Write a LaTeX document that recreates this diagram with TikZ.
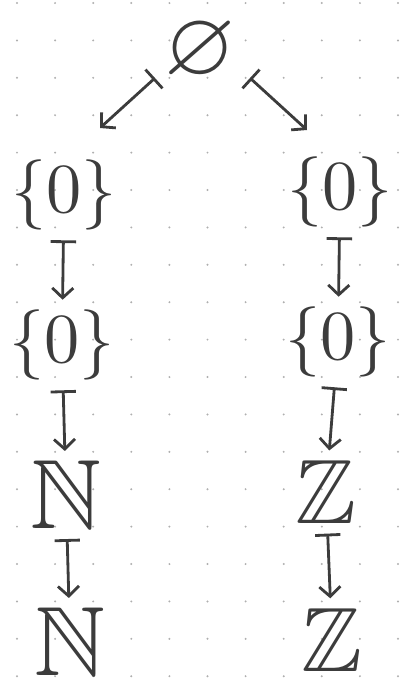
\documentclass[tikz,border=0pt]{standalone}
\usepackage{amsmath,amssymb}
\usepackage{graphicx}
\usepackage{xcolor}
\usepackage{tikz}
\usetikzlibrary{arrows.meta, positioning}
\definecolor{InkGray}{RGB}{60,60,60}
\definecolor{DotGray}{RGB}{175,175,175}
\tikzset{
  setnode/.style={inner sep=0pt, text=InkGray},
  maparr/.style={{Bar[width=18pt,line width=2pt]}-{Straight Barb[length=7pt,width=15pt,line width=2pt]},
    draw=InkGray, line width=2pt, shorten <=7pt, shorten >=7pt},
  griddot/.style={fill=DotGray, draw=none}
}

\begin{document}
\begin{tikzpicture}[x=0.025cm, y=-0.025cm]
  \useasboundingbox (0,0) rectangle (405,693);
  % dot paper
  \foreach \i in {0,...,10}
    \foreach \j in {0,...,18}
      \fill[griddot] ({17+38.1*\i},{3+37.4*\j}) circle (1.1);

  % top
  \node[setnode] (e) at (200,52) {\scalebox{6.5}{$\varnothing$}};

  % left column
  \node[setnode] (l1) at (64,195) {\scalebox{5}{$\{0\}$}};
  \node[setnode] (l2) at (62,345) {\scalebox{5}{$\{0\}$}};
  \node[setnode] (l3) at (66,495) {\scalebox{7}{$\mathbb{N}$}};
  \node[setnode] (l4) at (70,642) {\scalebox{7}{$\mathbb{N}$}};

  % right column
  \node[setnode] (r1) at (340,192) {\scalebox{5}{$\{0\}$}};
  \node[setnode] (r2) at (338,342) {\scalebox{5}{$\{0\}$}};
  \node[setnode] (r3) at (326,492) {\scalebox{6.5}{$\mathbb{Z}$}};
  \node[setnode] (r4) at (332,640) {\scalebox{6.5}{$\mathbb{Z}$}};

  \draw[maparr, shorten <=0pt, shorten >=0pt]
    ([shift={(-45,26)}]e.center) -- ([shift={(36,-67)}]l1.center);
  \draw[maparr, shorten <=0pt, shorten >=0pt]
    ([shift={(50,26)}]e.center) -- ([shift={(-33,-62)}]r1.center);

  \draw[maparr] (l1) -- (l2);
  \draw[maparr] (l2) -- (l3);
  \draw[maparr] (l3) -- (l4);

  \draw[maparr] (r1) -- (r2);
  \draw[maparr] (r2) -- (r3);
  \draw[maparr] (r3) -- (r4);
\end{tikzpicture}
\end{document}
